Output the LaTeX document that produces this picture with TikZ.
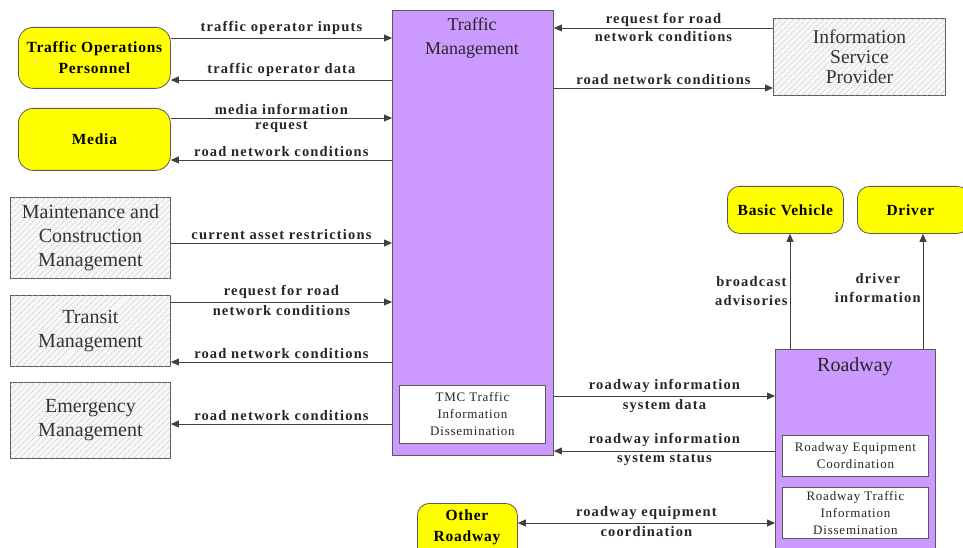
\documentclass[tikz,border=0pt]{standalone}
\usepackage{fontspec}
\setmainfont{Liberation Serif}
\usetikzlibrary{arrows.meta,patterns.meta}
\definecolor{tmpurple}{RGB}{204,153,255}
\definecolor{ylw}{RGB}{255,255,0}
\definecolor{edge}{RGB}{90,90,90}
\tikzset{
  arr/.style={draw=black!75, line width=0.8pt, -{Triangle[length=8pt,width=7pt]}},
  dbl/.style={draw=black!75, line width=0.8pt, {Triangle[length=8pt,width=7pt]}-{Triangle[length=8pt,width=7pt]}},
  lab/.style={font=\fontsize{14.5}{19}\selectfont\bfseries\addfontfeatures{LetterSpace=8}, inner sep=3pt, align=center, text=black!85},
  ylwbox/.style={draw=edge, line width=0.8pt, fill=ylw, rounded corners=15pt, anchor=north west, inner sep=0pt,
     align=center, font=\fontsize{15.5}{21}\selectfont\bfseries\addfontfeatures{LetterSpace=5}},
  hatchbox/.style={draw=edge, line width=0.9pt, fill=gray!6, anchor=north west, inner sep=0pt, align=center,
     postaction={pattern={Lines[angle=45,distance=4pt,line width=0.45pt]}, pattern color=gray!50},
     font=\fontsize{20}{24}\selectfont, text=black!80},
  purplebox/.style={draw=edge, line width=0.9pt, fill=tmpurple, anchor=north west, inner sep=0pt},
  whitebox/.style={draw=edge, line width=0.9pt, fill=white, anchor=north west, inner sep=0pt, align=center,
     font=\fontsize{13}{17}\selectfont\addfontfeatures{LetterSpace=6}, text=black!85},
  ttl/.style={font=\fontsize{18}{24}\selectfont, align=center, text=black!85, inner sep=0pt}
}
\begin{document}
\begin{tikzpicture}[x=1pt,y=-1pt]
\useasboundingbox (0,0) rectangle (963,548);
\clip (0,0) rectangle (963,548);
\fill[white] (0,0) rectangle (963,548);

% left column
\node[ylwbox, minimum width=152pt, minimum height=61pt] (top) at (18,27) {Traffic Operations\\Personnel};
\node[ylwbox, minimum width=152pt, minimum height=62pt] (media) at (18,108) {Media};
\node[hatchbox, minimum width=160pt, minimum height=81pt] (mcm) at (10,197) {Maintenance and\\Construction\\Management};
\node[hatchbox, minimum width=160pt, minimum height=71pt] (transit) at (10,295) {Transit\\Management};
\node[hatchbox, minimum width=160pt, minimum height=76pt] (em) at (10,382) {Emergency\\Management};

% traffic management
\node[purplebox, minimum width=161pt, minimum height=445pt] (tm) at (392,10) {};
\node[ttl, anchor=north] (tmt) at (472,18) {Traffic\\Management};
\node[whitebox, minimum width=146pt, minimum height=58pt] (tmc) at (399,385) {TMC Traffic\\Information\\Dissemination};

% right side
\node[hatchbox, minimum width=172pt, minimum height=77pt, font=\fontsize{19.5}{20}\selectfont] (isp) at (773,18) {Information\\Service\\Provider};
\node[ylwbox, minimum width=116pt, minimum height=47pt, rounded corners=12pt] (bv) at (727,186) {Basic Vehicle};
\node[ylwbox, minimum width=112pt, minimum height=47pt, rounded corners=12pt] (drv) at (857,186) {\hspace*{-6pt}Driver};
\node[purplebox, minimum width=160pt, minimum height=215pt] (rw) at (775,349) {};
\node[ttl, anchor=north, font=\fontsize{20}{24}\selectfont] (rwt) at (855,357) {Roadway};
\node[whitebox, minimum width=146pt, minimum height=41pt] (rec) at (782,435) {Roadway Equipment\\Coordination};
\node[whitebox, minimum width=146pt, minimum height=51pt] (rtid) at (782,487) {Roadway Traffic\\Information\\Dissemination};
\node[ylwbox, minimum width=100pt, minimum height=70pt, rounded corners=12pt] (or) at (417,503) {};
\node[align=center, inner sep=0pt, font=\fontsize{15.5}{21}\selectfont\bfseries\addfontfeatures{LetterSpace=5}] (ort) at (467,527) {Other\\Roadway};

% left arrows
\draw[arr] (top.east |- 0,38) -- node[lab, above] {traffic operator inputs} (tm.west |- 0,38);
\draw[arr] (tm.west |- 0,80) -- node[lab, above] {traffic operator data} (top.east |- 0,80);
\draw[arr] (media.east |- 0,118) -- node[lab, above] {media information} node[lab, below] {request} (tm.west |- 0,118);
\draw[arr] (tm.west |- 0,160) -- node[lab, above] {road network conditions} (media.east |- 0,160);
\draw[arr] (mcm.east |- 0,243) -- node[lab, above] {current asset restrictions} (tm.west |- 0,243);
\draw[arr] (transit.east |- 0,302) -- node[lab, above] {request for road} node[lab, below] {network conditions} (tm.west |- 0,302);
\draw[arr] (tm.west |- 0,362) -- node[lab, above] {road network conditions} (transit.east |- 0,362);
\draw[arr] (tm.west |- 0,424) -- node[lab, above] {road network conditions} (em.east |- 0,424);

% right arrows
\draw[arr] (isp.west |- 0,28) -- node[lab, above, yshift=-2pt] {request for road} node[lab, below] {network conditions} (tm.east |- 0,28);
\draw[arr] (tm.east |- 0,88) -- node[lab, above] {road network conditions} (isp.west |- 0,88);
\draw[arr] (tm.east |- 0,396) -- node[lab, above] {roadway information} node[lab, below] {system data} (rw.west |- 0,396);
\draw[arr] (rw.west |- 0,451) -- node[lab, above, yshift=1pt] {roadway information} node[lab, below] {system status} (tm.east |- 0,451);
\draw[dbl] (or.east |- 0,523) -- node[lab, above] {roadway equipment} node[lab, below] {coordination} (rw.west |- 0,523);

% vertical arrows
\draw[arr] (rw.north -| 790,0) -- node[lab, left, pos=0.5, inner sep=2pt] {broadcast\\advisories} (bv.south -| 790,0);
\draw[arr] (rw.north -| 923,0) -- node[lab, left, pos=0.53, inner sep=2pt] {driver\\information} (drv.south -| 923,0);
\end{tikzpicture}
\end{document}
